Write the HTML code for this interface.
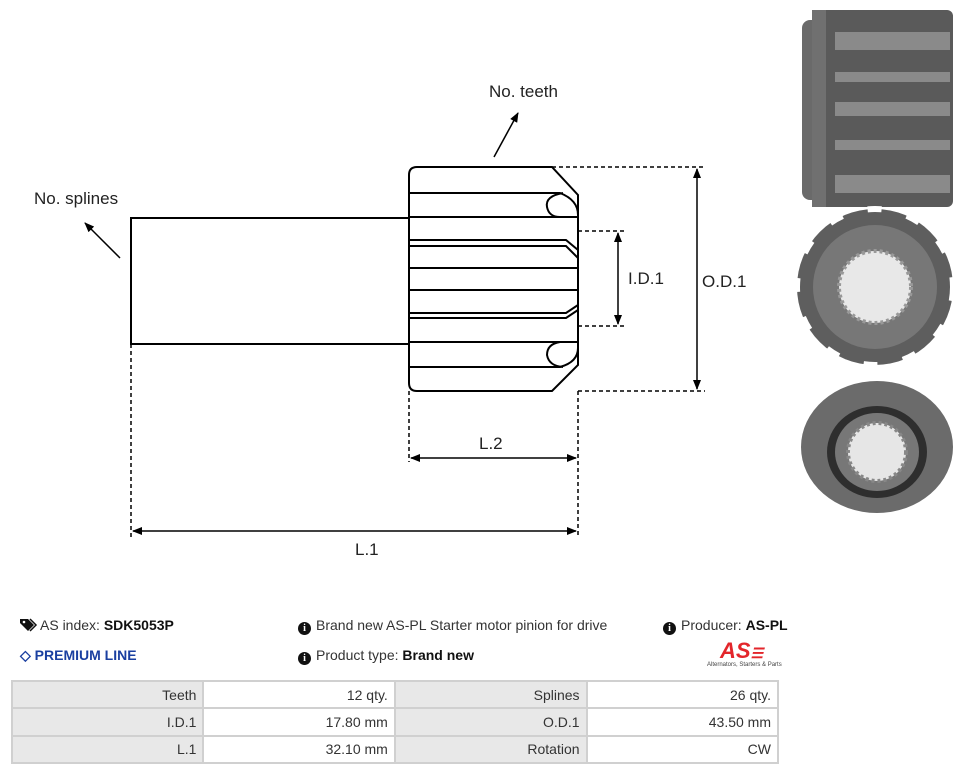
<!DOCTYPE html>
<html><head><meta charset="utf-8"><style>
body{margin:0;width:962px;height:774px;background:#fff;font-family:"Liberation Sans",sans-serif;position:relative;overflow:hidden}
.t{position:absolute;font-size:14px;color:#333;white-space:nowrap}
b{color:#111}
table{position:absolute;left:11px;top:680px;border-collapse:collapse;width:768px;font-size:14px;color:#333}
td{border:2px solid #d0d0d0;height:25.4px;padding:0 6px;text-align:right;width:180px}
td.g{background:#e8e8e8}
.i{display:inline-block;width:13px;height:13px;border-radius:50%;background:#111;color:#fff;font-size:10px;font-weight:bold;text-align:center;line-height:13px;font-family:"Liberation Serif",serif;margin-right:5px;vertical-align:-1px}
</style></head><body>
<svg width="962" height="600" style="position:absolute;left:0;top:0" font-family="Liberation Sans, sans-serif">
<defs><marker id="a" markerWidth="10" markerHeight="8" refX="9" refY="4" orient="auto" markerUnits="userSpaceOnUse"><path d="M0,0L10,4L0,8z" fill="#000"/></marker>
<marker id="s" markerWidth="10" markerHeight="8" refX="1" refY="4" orient="auto" markerUnits="userSpaceOnUse"><path d="M10,0L0,4L10,8z" fill="#000"/></marker></defs>
<g stroke="#000" stroke-width="2" fill="none">
<path d="M409,218H131V344H409"/>
<path d="M417,167H552L578,195V365L552,391H417Q409,391 409,383V175Q409,167 417,167Z"/>
<path d="M409,193H560Q578,200 578,215"/>
<path d="M409,217H578"/>
<path d="M563,193Q545,196 547,207Q549,217 560,217"/>
<path d="M409,240H566L578,250M409,246H566L578,258"/>
<path d="M409,268H578M409,290H578"/>
<path d="M409,313H566L578,305M409,318H566L578,310"/>
<path d="M409,342H578M409,367H560Q578,362 578,348"/>
<path d="M560,342Q547,344 547,355Q549,366 563,367"/>
</g>
<g stroke="#000" stroke-width="1.5" fill="none" stroke-dasharray="4,3">
<path d="M552,167H705M578,231H625M578,326H625M578,391H705M131,344V537M409,391V462M578,391V537"/>
</g>
<g stroke="#000" stroke-width="1.5">
<line x1="618" y1="233" x2="618" y2="324" marker-start="url(#s)" marker-end="url(#a)"/>
<line x1="697" y1="169" x2="697" y2="389" marker-start="url(#s)" marker-end="url(#a)"/>
<line x1="411" y1="458" x2="576" y2="458" marker-start="url(#s)" marker-end="url(#a)"/>
<line x1="133" y1="531" x2="576" y2="531" marker-start="url(#s)" marker-end="url(#a)"/>
<line x1="494" y1="157" x2="518" y2="113" marker-end="url(#a)"/>
<line x1="120" y1="258" x2="85" y2="223" marker-end="url(#a)"/>
</g>
<g font-size="17" fill="#222">
<text x="489" y="97">No. teeth</text><text x="34" y="204">No. splines</text>
<text x="628" y="284">I.D.1</text><text x="702" y="287">O.D.1</text>
<text x="479" y="449">L.2</text><text x="355" y="555">L.1</text></g>
<rect x="802" y="20" width="20" height="180" rx="8" fill="#6a6a6a"/>
<rect x="812" y="10" width="141" height="197" rx="6" fill="#5a5a5a"/>
<g fill="#8a8a8a"><rect x="835" y="32" width="115" height="18"/><rect x="835" y="72" width="115" height="10"/><rect x="835" y="102" width="115" height="14"/><rect x="835" y="140" width="115" height="10"/><rect x="835" y="175" width="115" height="18"/></g>
<rect x="812" y="10" width="14" height="197" fill="#707070"/>
<circle cx="875" cy="287" r="78" fill="#5e5e5e" stroke="#fff" stroke-width="6" stroke-dasharray="14,26"/>
<circle cx="875" cy="287" r="62" fill="#777"/>
<circle cx="875" cy="287" r="36" fill="#e8e8e8" stroke="#999" stroke-width="4" stroke-dasharray="3,3"/>
<ellipse cx="877" cy="447" rx="76" ry="66" fill="#6b6b6b"/>
<ellipse cx="877" cy="452" rx="50" ry="46" fill="#2e2e2e"/>
<ellipse cx="877" cy="452" rx="42" ry="39" fill="#777"/>
<circle cx="877" cy="452" r="29" fill="#e6e6e6" stroke="#888" stroke-width="4" stroke-dasharray="3,3"/>
</svg>
<svg width="20" height="16" style="position:absolute;left:19px;top:617px"><path d="M1,2h8l6,6l-6,6l-8,-8z" fill="#111"/><path d="M11,2l6,6l-6,6" stroke="#111" stroke-width="1.5" fill="none"/><circle cx="5" cy="5" r="1.3" fill="#fff"/></svg>
<div class="t" style="left:40px;top:617px">AS index: <b>SDK5053P</b></div>
<div class="t" style="left:20px;top:647px;color:#1a3fa0;font-weight:bold">◇ PREMIUM LINE</div>
<div class="t" style="left:298px;top:617px"><span class="i">i</span>Brand new AS-PL Starter motor pinion for drive</div>
<div class="t" style="left:298px;top:647px"><span class="i">i</span>Product type: <b>Brand new</b></div>
<div class="t" style="left:663px;top:617px"><span class="i">i</span>Producer: <b>AS-PL</b></div>
<div class="t" style="left:720px;top:638px;color:#e3262b;font-weight:bold;font-style:italic;font-size:22px">AS<span style="font-size:14px">☰</span></div>
<div class="t" style="left:707px;top:662px;font-size:6px;color:#444">Alternators, Starters &amp; Parts</div>
<table>
<tr><td class="g">Teeth</td><td>12 qty.</td><td class="g">Splines</td><td>26 qty.</td></tr>
<tr><td class="g">I.D.1</td><td>17.80 mm</td><td class="g">O.D.1</td><td>43.50 mm</td></tr>
<tr><td class="g">L.1</td><td>32.10 mm</td><td class="g">Rotation</td><td>CW</td></tr>
</table>
</body></html>
